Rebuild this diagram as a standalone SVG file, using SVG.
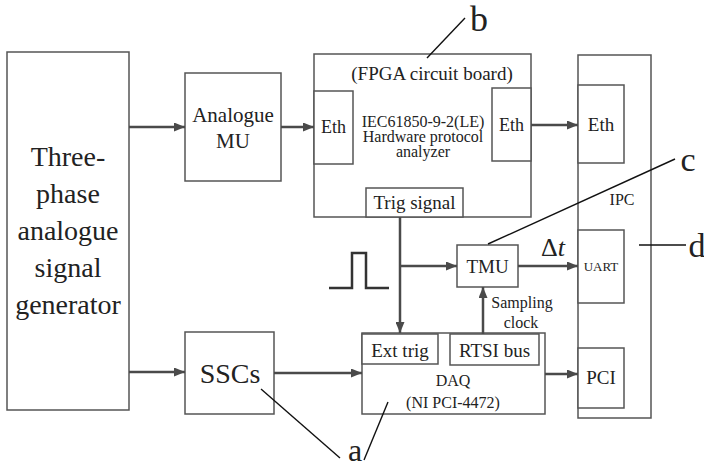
<svg xmlns="http://www.w3.org/2000/svg" width="704" height="465" viewBox="0 0 704 465" font-family="'Liberation Serif', 'DejaVu Serif', 'Times New Roman', serif">
<defs>
<marker id="ah" markerUnits="userSpaceOnUse" markerWidth="11" markerHeight="9" refX="11" refY="4.5" orient="auto">
<path d="M0,0 L11,4.5 L0,9 z" fill="#4a4a4a"/>
</marker>
<style>
.box{fill:#fff;stroke:#555;stroke-width:1.5}
.t{font-family:'Liberation Serif','DejaVu Serif','Times New Roman',serif;fill:#222;text-anchor:middle}
.arr{stroke:#4a4a4a;stroke-width:2.5;fill:none;marker-end:url(#ah)}
.lead{stroke:#111;stroke-width:1.4;fill:none}
</style>
</defs>
<rect width="704" height="465" fill="#fff"/>

<g id="generator">
<rect class="box" x="7" y="52" width="122" height="358"/>
<text class="t" x="68" y="166" font-size="28">Three-</text>
<text class="t" x="68" y="203" font-size="28">phase</text>
<text class="t" x="68" y="240" font-size="28">analogue</text>
<text class="t" x="68" y="277" font-size="28">signal</text>
<text class="t" x="68" y="314" font-size="28">generator</text>
</g>

<g id="analogue-mu">
<rect class="box" x="185" y="73" width="96" height="108"/>
<text class="t" x="233" y="122" font-size="21">Analogue</text>
<text class="t" x="233" y="148" font-size="21">MU</text>
</g>

<g id="fpga">
<rect class="box" x="314" y="54" width="217" height="163"/>
<text class="t" x="432" y="80" font-size="19">(FPGA circuit board)</text>
<text class="t" x="423" y="127" font-size="16">IEC61850-9-2(LE)</text>
<text class="t" x="423" y="142" font-size="16">Hardware protocol</text>
<text class="t" x="423" y="157" font-size="16">analyzer</text>
</g>
<g id="fpga-eth-in">
<rect class="box" x="314" y="91" width="39" height="73"/>
<text class="t" x="333.5" y="133" font-size="18">Eth</text>
</g>
<g id="fpga-eth-out">
<rect class="box" x="492" y="88" width="39" height="73"/>
<text class="t" x="511.5" y="131" font-size="18">Eth</text>
</g>
<g id="trig-signal">
<rect class="box" x="366" y="188" width="97" height="29"/>
<text class="t" x="414.5" y="209" font-size="19">Trig signal</text>
</g>

<g id="ipc">
<rect class="box" x="578" y="55" width="73" height="363"/>
<text class="t" x="622" y="205" font-size="16">IPC</text>
</g>
<g id="ipc-eth">
<rect class="box" x="578" y="85" width="46" height="78"/>
<text class="t" x="601" y="131" font-size="19">Eth</text>
</g>
<g id="ipc-uart">
<rect class="box" x="578" y="230" width="46" height="73"/>
<text class="t" x="601" y="271" font-size="13">UART</text>
</g>
<g id="ipc-pci">
<rect class="box" x="578" y="348" width="46" height="60"/>
<text class="t" x="601" y="384" font-size="19">PCI</text>
</g>

<g id="tmu">
<rect class="box" x="457" y="245" width="61" height="42"/>
<text class="t" x="487.5" y="273" font-size="19">TMU</text>
</g>

<g id="sscs">
<rect class="box" x="185" y="332" width="89" height="82"/>
<text class="t" x="230" y="383" font-size="28">SSCs</text>
</g>

<g id="daq">
<rect class="box" x="362" y="333" width="183" height="81"/>
<text class="t" x="453" y="386" font-size="16">DAQ</text>
<text class="t" x="453" y="408" font-size="16">(NI PCI-4472)</text>
</g>
<g id="ext-trig">
<rect class="box" x="362" y="334" width="76" height="30"/>
<text class="t" x="400" y="357" font-size="19">Ext trig</text>
</g>
<g id="rtsi">
<rect class="box" x="450" y="334" width="89" height="31"/>
<text class="t" x="494.5" y="357" font-size="19">RTSI bus</text>
</g>

<g id="connectors">
<path class="arr" d="M129,127 H185"/>
<path class="arr" d="M281,127 H314"/>
<path class="arr" d="M531,125 H578"/>
<path class="arr" d="M129,372 H185"/>
<path class="arr" d="M274,373 H362"/>
<path class="arr" d="M400,217 V333"/>
<path class="arr" d="M400,266 H457"/>
<path class="arr" d="M483,334 V287"/>
<path class="arr" d="M518,266 H578"/>
<path class="arr" d="M545,374 H578"/>
<polyline points="329,288 352,288 352,253 366,253 366,288 389,288" fill="none" stroke="#333" stroke-width="2.5"/>
<path class="lead" d="M427,58 L465,18"/>
<path class="lead" d="M488,244 L675,159"/>
<path class="lead" d="M639,245 H686"/>
<path class="lead" d="M261,389 L340,458"/>
<path class="lead" d="M364,460 L388,402"/>
</g>

<g id="labels">
<text class="t" x="522" y="308" font-size="16">Sampling</text>
<text class="t" x="521" y="328" font-size="16">clock</text>
<text class="t" x="553" y="256" font-size="26">Δ<tspan font-style="italic">t</tspan></text>
<text class="t" x="479" y="31" font-size="36">b</text>
<text class="t" x="688" y="171" font-size="34">c</text>
<text class="t" x="697" y="257" font-size="34">d</text>
<text class="t" x="355" y="461" font-size="32">a</text>
</g>
</svg>
